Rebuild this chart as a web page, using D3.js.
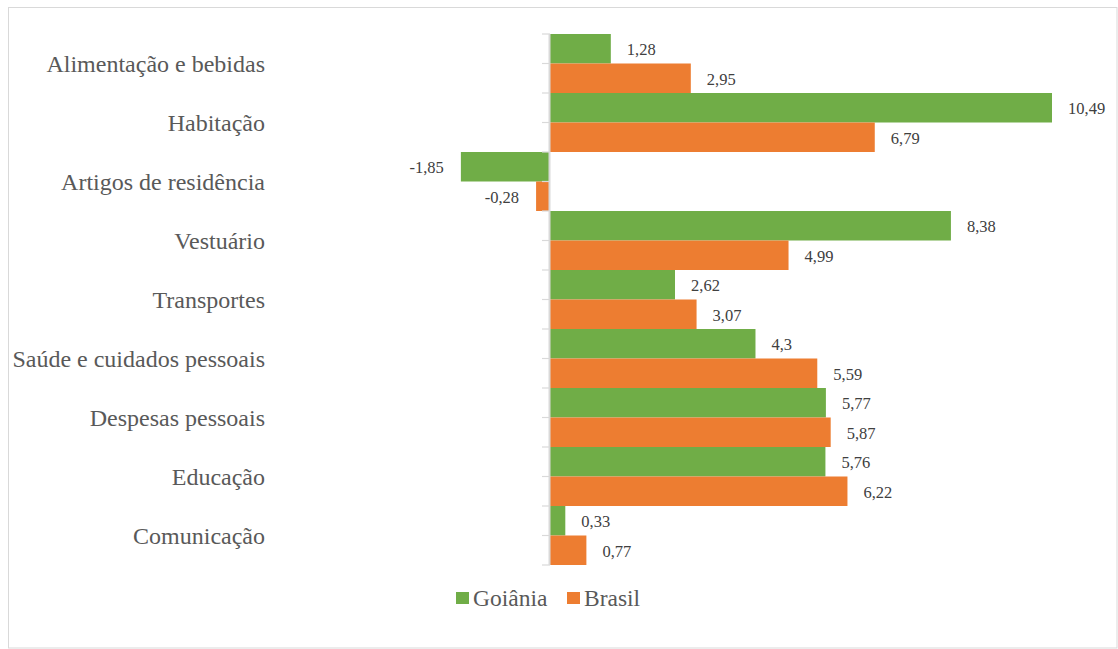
<!DOCTYPE html>
<html><head><meta charset="utf-8">
<script src="https://cdn.jsdelivr.net/npm/d3@7"></script>
<style>body{margin:0;background:#fff}svg{display:block}</style>
</head><body>
<script>
const categories = ["Alimentação e bebidas","Habitação","Artigos de residência","Vestuário","Transportes","Saúde e cuidados pessoais","Despesas pessoais","Educação","Comunicação"];
const goiania = [1.28,10.49,-1.85,8.38,2.62,4.3,5.77,5.76,0.33];
const brasil = [2.95,6.79,-0.28,4.99,3.07,5.59,5.87,6.22,0.77];
const seriesNames = ["Goiânia","Brasil"];
const colors = ["#70ad47","#ed7d31"];
const fmt = v => String(v).replace(".", ",");
const FONT = '"Liberation Serif", "Times New Roman", serif';

const W=1118,H=649;
const svg=d3.select("body").append("svg").attr("width",W).attr("height",H);
svg.append("rect").attr("x",8.5).attr("y",7.5).attr("width",W-9.5).attr("height",H-8.5)
  .attr("fill","#fff").attr("stroke","#d9d9d9").attr("stroke-width",1);

const x=d3.scaleLinear().domain([0,10.49]).range([549.5,1052]);
const y=d3.scaleBand().domain(categories).range([34,565]).padding(0);
const ys=d3.scaleBand().domain(seriesNames).range([0,y.bandwidth()]).padding(0);

const data=[];
categories.forEach((c,i)=>{data.push({c,s:"Goiânia",v:goiania[i],col:colors[0]});data.push({c,s:"Brasil",v:brasil[i],col:colors[1]});});

const g=svg.append("g");
g.selectAll("rect.bar").data(data).join("rect").attr("class","bar")
  .attr("x",d=>x(Math.min(0,d.v))).attr("width",d=>Math.abs(x(d.v)-x(0)))
  .attr("y",d=>y(d.c)+ys(d.s)).attr("height",ys.bandwidth()).attr("fill",d=>d.col);

const tickYs=[];
categories.forEach(c=>{tickYs.push(y(c));tickYs.push(y(c)+ys.bandwidth());});
tickYs.push(565);
g.selectAll("line.tick").data(tickYs).join("line").attr("class","tick")
  .attr("x1",542).attr("x2",550).attr("y1",d=>d).attr("y2",d=>d)
  .attr("stroke","#d9d9d9").attr("stroke-width",1.2);
g.append("line").attr("x1",x(0)).attr("x2",x(0)).attr("y1",34).attr("y2",565)
  .attr("stroke","#d9d9d9").attr("stroke-width",2);

g.selectAll("text.val").data(data).join("text").attr("class","val")
  .attr("x",d=>d.v>=0?x(d.v)+16:x(d.v)-17)
  .attr("text-anchor",d=>d.v>=0?"start":"end")
  .attr("y",d=>y(d.c)+ys(d.s)+ys.bandwidth()/2).attr("dy","0.4em")
  .style("font-family",FONT).style("font-size","16.5px")
  .attr("fill","#404040").text(d=>fmt(d.v));

g.selectAll("text.cat").data(categories).join("text").attr("class","cat")
  .attr("x",265).attr("text-anchor","end").attr("y",d=>y(d)+y.bandwidth()/2).attr("dy","0.35em")
  .style("font-family",FONT).style("font-size","24px")
  .attr("fill","#595959").text(d=>d);

const leg=svg.append("g");
const lx=[456,567];
seriesNames.forEach((s,i)=>{
  leg.append("rect").attr("x",lx[i]).attr("y",592).attr("width",13).attr("height",12).attr("fill",colors[i]);
  leg.append("text").attr("x",lx[i]+17).attr("y",606)
    .style("font-family",FONT).style("font-size","23.5px")
    .attr("fill","#595959").text(s);
});
</script>
</body></html>
